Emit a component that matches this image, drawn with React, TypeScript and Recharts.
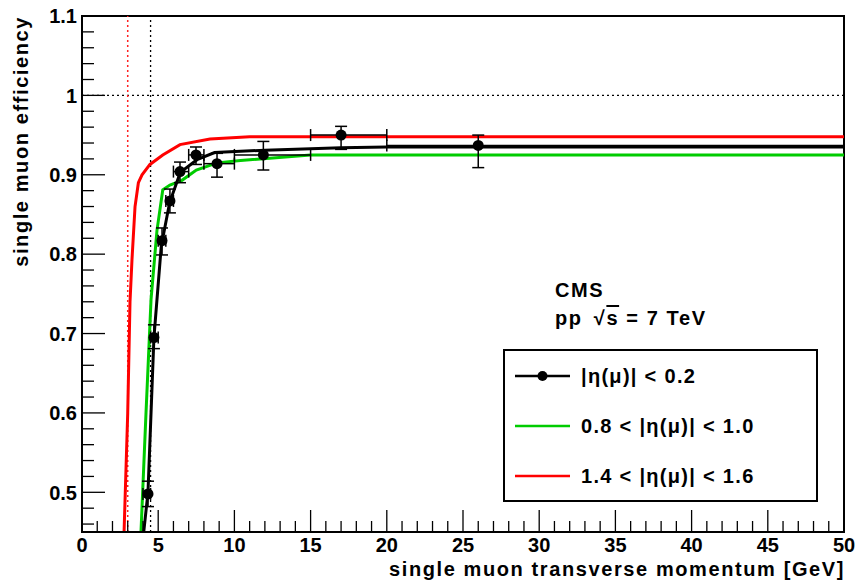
import React from 'react';
import {
  ComposedChart, Line, Scatter, XAxis, YAxis, ErrorBar, ReferenceLine, ReferenceArea, Legend,
} from 'recharts';

// ---- data ----
const ptValues = [4.33, 4.72, 5.25, 5.77, 6.43, 7.48, 8.86, 11.9, 17.0, 26.0];
const effValues = [0.498, 0.695, 0.817, 0.867, 0.904, 0.925, 0.914, 0.925, 0.950, 0.937];
const binLow = [4.0, 4.5, 5.0, 5.5, 6.0, 7.0, 8.0, 10.0, 15.0, 20.0];
const binHigh = [4.5, 5.0, 5.5, 6.0, 7.0, 8.0, 10.0, 15.0, 20.0, 50.0];
const effErrLow = [0.016, 0.014, 0.018, 0.015, 0.014, 0.012, 0.017, 0.019, 0.018, 0.028];
const effErrHigh = [0.016, 0.016, 0.016, 0.015, 0.012, 0.010, 0.013, 0.017, 0.011, 0.013];

const blackFitX = [4.05, 4.33, 4.72, 5.2, 5.75, 6.45, 7.55, 8.7, 12, 17, 20, 50];
const blackFitY = [0.45, 0.5, 0.695, 0.81, 0.865, 0.903, 0.919, 0.928, 0.931, 0.934, 0.935, 0.935];

const greenFitX = [3.87, 4.2, 4.53, 4.92, 5.3, 5.77, 6.56, 7.5, 8.86, 10.4, 15, 50];
const greenFitY = [0.45, 0.6, 0.743, 0.83, 0.881, 0.887, 0.893, 0.906, 0.915, 0.918, 0.925, 0.925];

const redFitX = [2.76, 3.0, 3.15, 3.28, 3.48, 3.7, 3.94, 4.46, 5.3, 6.43, 8.4, 11, 50];
const redFitY = [0.45, 0.6, 0.74, 0.793, 0.86, 0.89, 0.9, 0.913, 0.925, 0.938, 0.945, 0.948, 0.948];

const seriesNames = ['|\u03b7(\u03bc)| < 0.2', '0.8 < |\u03b7(\u03bc)| < 1.0', '1.4 < |\u03b7(\u03bc)| < 1.6'];
const seriesColors = ['#000000', '#00cc00', '#ff0000'];

const yTicks = [0.46, 0.48, 0.5, 0.52, 0.54, 0.56, 0.58, 0.6, 0.62, 0.64, 0.66, 0.68, 0.7, 0.72, 0.74, 0.76, 0.78, 0.8,
  0.82, 0.84, 0.86, 0.88, 0.9, 0.92, 0.94, 0.96, 0.98, 1.0, 1.02, 1.04, 1.06, 1.08, 1.1];
const yMajorLabels: Record<string, string> = {
  '0.5': '0.5', '0.6': '0.6', '0.7': '0.7', '0.8': '0.8', '0.9': '0.9', '1': '1', '1.1': '1.1',
};
const xTicks = Array.from({ length: 51 }, (_, i) => i);
const xMajorLabels: Record<string, string> = {
  '0': '0', '5': '5', '10': '10', '15': '15', '20': '20', '25': '25', '30': '30', '35': '35', '40': '40', '45': '45', '50': '50',
};

const xTitle = 'single muon transverse momentum [GeV]';
const yTitle = 'single muon efficiency';

// ---- tables ----
const points = ptValues.map((x, i) => ({
  x,
  y: effValues[i],
  ex: [x - binLow[i], binHigh[i] - x],
  ey: [effErrLow[i], effErrHigh[i]],
}));
const toXY = (xs: number[], ys: number[]) => xs.map((x, i) => ({ x, y: ys[i] }));
const blackFit = toXY(blackFitX, blackFitY);
const greenFit = toXY(greenFitX, greenFitY);
const redFit = toXY(redFitX, redFitY);

// ---- layout ----
const W = 857;
const H = 585;
const LEFT = 82;
const TOP = 16;
const RIGHT = 844;
const BOTTOM = 532;
const FONT = '"Liberation Sans", Arial, Helvetica, sans-serif';
const SPACING = 1.6;

const XTick = (props: any) => {
  const { x, payload } = props;
  const key = String(Math.round(payload.value * 1000) / 1000);
  const major = key in xMajorLabels;
  const len = major ? 22 : 11;
  return (
    <g>
      <line x1={x} x2={x} y1={BOTTOM} y2={BOTTOM - len} stroke="#000" strokeWidth={1.3} />
      {major && (
        <text x={x} y={552} textAnchor="middle" fontFamily={FONT} fontWeight="bold" fontSize={20} fill="#000">
          {xMajorLabels[key]}
        </text>
      )}
    </g>
  );
};

const YTick = (props: any) => {
  const { y, payload } = props;
  const key = String(Math.round(payload.value * 1000) / 1000);
  const major = key in yMajorLabels;
  const len = major ? 23 : 12;
  return (
    <g>
      <line x1={LEFT} x2={LEFT + len} y1={y} y2={y} stroke="#000" strokeWidth={1.3} />
      {major && (
        <text x={77} y={y} dy="0.36em" textAnchor="end" fontFamily={FONT} fontWeight="bold" fontSize={20} fill="#000">
          {yMajorLabels[key]}
        </text>
      )}
    </g>
  );
};

const Dot = (props: any) => <circle cx={props.cx} cy={props.cy} r={5.5} fill="#000" />;

const LegendBox = () => (
  <svg width={316} height={154} style={{ display: 'block' }}>
    <rect x={1} y={1} width={313} height={151} fill="#fff" stroke="#000" strokeWidth={2} />
    {seriesNames.map((name, i) => {
      const cy = 27 + i * 50;
      return (
        <g key={name}>
          <line x1={12} x2={67} y1={cy} y2={cy} stroke={seriesColors[i]} strokeWidth={2.5} />
          {i === 0 && <circle cx={39.5} cy={cy} r={5} fill="#000" />}
          <text x={78} y={cy} dy="0.36em" fontFamily={FONT} fontWeight="bold" fontSize={20} letterSpacing={1.3} fill="#000">
            {name}
          </text>
        </g>
      );
    })}
  </svg>
);

export default function App() {
  return (
    <div style={{ position: 'absolute', left: 0, top: 0, width: W, height: H, background: '#fff' }}>
      <ComposedChart width={W} height={H} margin={{ top: TOP, right: W - RIGHT, bottom: 0, left: 0 }}>
        <XAxis
          type="number"
          dataKey="x"
          domain={[0, 50]}
          ticks={xTicks}
          interval={0}
          allowDataOverflow
          height={H - BOTTOM}
          tickLine={false}
          axisLine={{ stroke: '#000', strokeWidth: 2 }}
          tick={<XTick />}
          label={{
            content: () => (
              <text x={845} y={576} textAnchor="end" fontFamily={FONT} fontWeight="bold" fontSize={20} letterSpacing={SPACING} fill="#000">
                {xTitle}
              </text>
            ),
          }}
        />
        <YAxis
          type="number"
          dataKey="y"
          domain={[0.45, 1.1]}
          ticks={yTicks}
          interval={0}
          allowDataOverflow
          width={LEFT}
          tickLine={false}
          axisLine={{ stroke: '#000', strokeWidth: 2 }}
          tick={<YTick />}
          label={{
            content: () => (
              <text
                transform={`translate(28, ${TOP}) rotate(-90)`}
                textAnchor="end"
                fontFamily={FONT}
                fontWeight="bold"
                fontSize={20}
                letterSpacing={SPACING}
                fill="#000"
              >
                {yTitle}
              </text>
            ),
          }}
        />
        <ReferenceArea x1={0} x2={50} y1={0.45} y2={1.1} fill="none" stroke="#000" strokeWidth={2} />
        <ReferenceLine y={1.0} stroke="#000" strokeDasharray="2 3" strokeWidth={1.3} />
        <ReferenceLine x={3} stroke="#ff2020" strokeDasharray="2 3" strokeWidth={1.5} />
        <ReferenceLine x={4.5} stroke="#000" strokeDasharray="2 3" strokeWidth={1.3} />
        <Line data={greenFit} dataKey="y" type="linear" stroke={seriesColors[1]} strokeWidth={3} dot={false} isAnimationActive={false} legendType="none" />
        <Line data={redFit} dataKey="y" type="linear" stroke={seriesColors[2]} strokeWidth={3} dot={false} isAnimationActive={false} legendType="none" />
        <Line data={blackFit} dataKey="y" type="linear" stroke={seriesColors[0]} strokeWidth={3} dot={false} isAnimationActive={false} legendType="none" />
        <Scatter data={points} dataKey="y" fill="#000" shape={<Dot />} isAnimationActive={false}>
          <ErrorBar dataKey="ey" direction="y" width={6} stroke="#000" strokeWidth={1.5} isAnimationActive={false} />
          <ErrorBar dataKey="ex" direction="x" width={6} stroke="#000" strokeWidth={1.5} isAnimationActive={false} />
        </Scatter>
        <Legend
          layout="horizontal"
          verticalAlign="middle"
          align="center"
          content={() => <LegendBox />}
          wrapperStyle={{ position: 'absolute', left: 503, top: 349, width: 316, height: 154 }}
        />
      </ComposedChart>
      <svg width={W} height={H} style={{ position: 'absolute', left: 0, top: 0, pointerEvents: 'none' }}>
        <text x={555} y={297} fontFamily={FONT} fontWeight="bold" fontSize={20} letterSpacing={SPACING} fill="#000">CMS</text>
        <text x={555} y={325} fontFamily={FONT} fontWeight="bold" fontSize={20} letterSpacing={SPACING} fill="#000">
          pp <tspan dx={4}>{'\u221a'}</tspan><tspan style={{ textDecoration: 'overline' }}>s</tspan> = 7 TeV
        </text>
      </svg>
    </div>
  );
}
